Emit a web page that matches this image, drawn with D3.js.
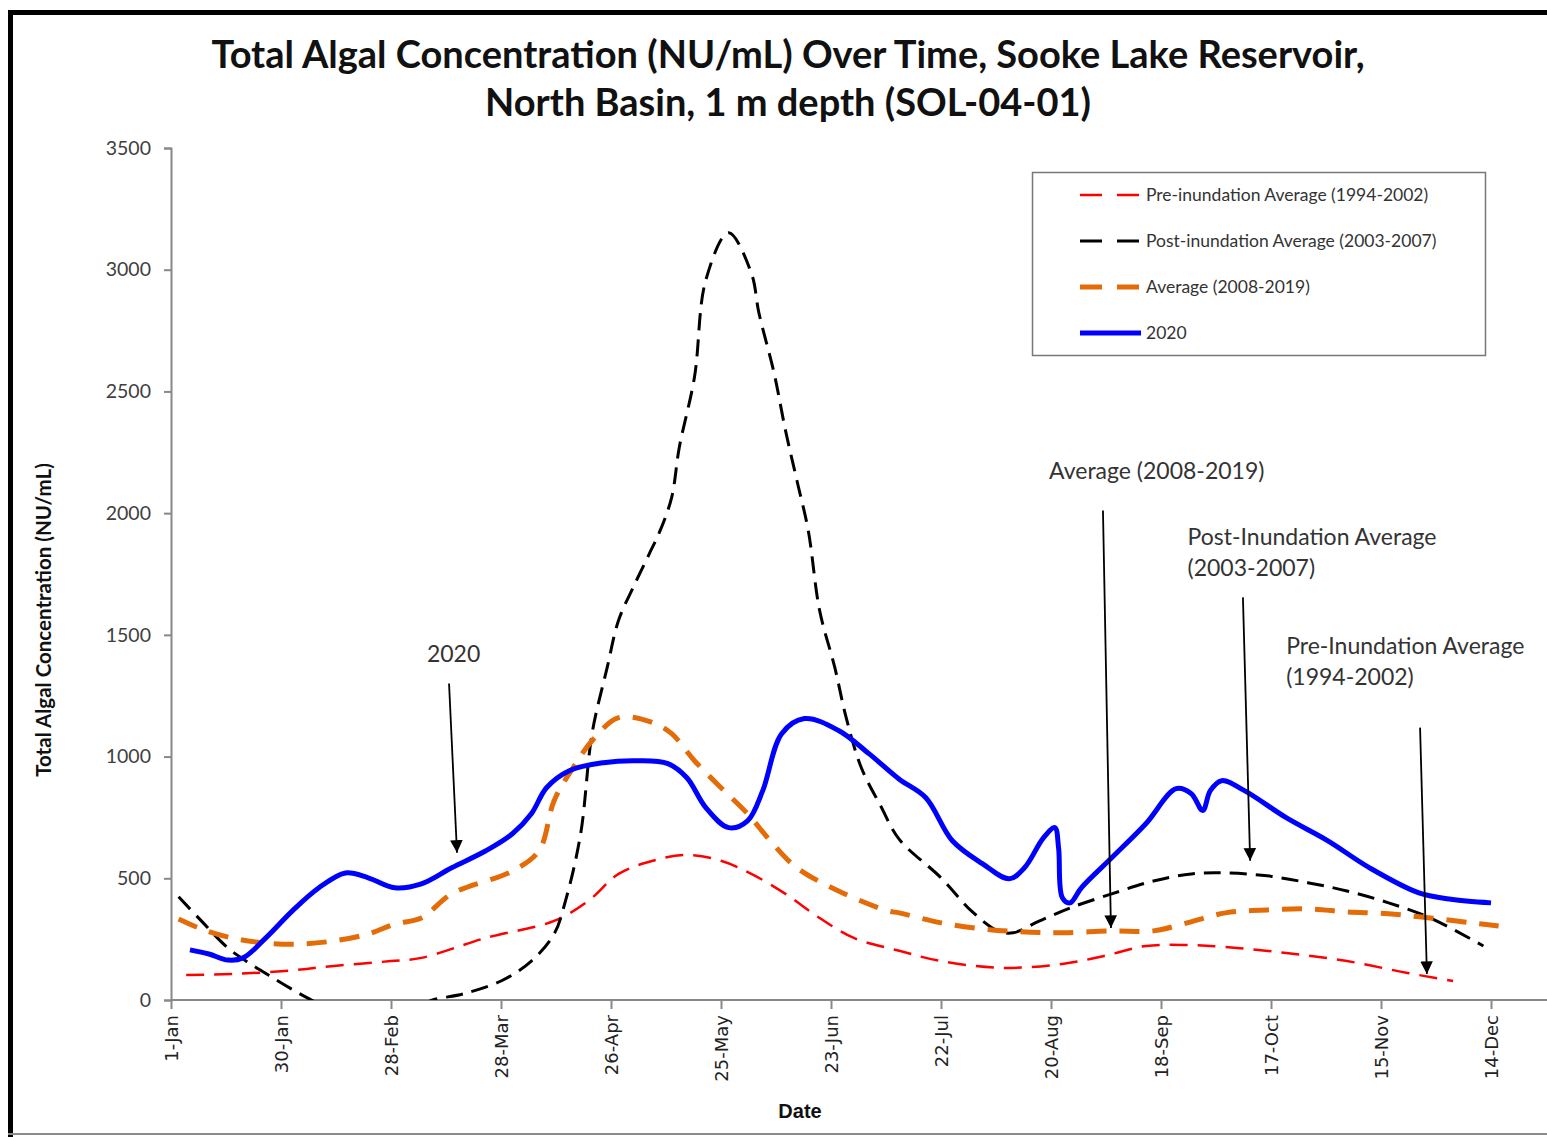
<!DOCTYPE html>
<html>
<head>
<meta charset="utf-8">
<script src="https://cdn.jsdelivr.net/npm/d3@7"></script>
<style>
  body { margin: 0; background: #fff; }
  svg { display: block; }
</style>
</head>
<body>
<svg id="chart" width="1547" height="1137"></svg>
<script>
// x is days since 1-Jan (2020), y is NU/mL
const tickDays = [0, 29, 58, 87, 116, 145, 174, 203, 232, 261, 290, 319, 348];
const tickLabels = ["1-Jan", "30-Jan", "28-Feb", "28-Mar", "26-Apr", "25-May", "23-Jun",
  "22-Jul", "20-Aug", "18-Sep", "17-Oct", "15-Nov", "14-Dec"];
const yTicks = [0, 500, 1000, 1500, 2000, 2500, 3000, 3500];

const preDays = [4, 16, 30, 43, 58, 66, 83, 101, 110, 118, 127, 136, 145, 153, 162, 171, 180,
  192, 203, 219, 235, 246, 257, 267, 278, 294, 310, 326, 338];
const preValues = [103, 107, 119, 140, 160, 173, 255, 325, 407, 518, 572, 596, 572, 518, 436, 337, 255,
  202, 160, 132, 148, 181, 222, 226, 218, 193, 160, 111, 78];

const postDays = [2, 8, 15, 21, 27, 34, 37, 42, 55, 65, 69, 77, 87, 95, 101, 104, 108, 111, 115, 118,
  122, 126, 129, 132, 134, 138, 141, 147, 153, 155, 159, 162, 165, 168, 171, 175, 178, 182, 187, 192,
  203, 211, 218, 222, 229, 237, 248, 259, 269, 278, 289, 300, 310, 321, 332, 346];
const postValues = [424, 325, 214, 148, 90, 25, 0, -40, -80, -30, 0, 25, 78, 160, 271, 407, 683, 1094, 1366, 1560,
  1700, 1830, 1930, 2065, 2270, 2558, 2958, 3152, 2986, 2822, 2575, 2340, 2135, 1929, 1600, 1366, 1160, 954, 800, 660,
  502, 366, 284, 276, 325, 378, 436, 489, 518, 522, 510, 481, 448, 399, 337, 222];

const avgDays = [2, 8, 16, 25, 34, 43, 52, 59, 66, 74, 90, 97, 101, 106, 111, 118, 127, 132, 138, 145,
  152, 158, 165, 176, 189, 192, 203, 214, 224, 235, 248, 259, 267, 278, 289, 300, 310, 321, 332, 343, 350];
const avgValues = [333, 292, 255, 234, 230, 243, 271, 312, 337, 436, 530, 613, 819, 954, 1065, 1160, 1140, 1094, 983, 872,
  765, 654, 543, 448, 366, 358, 317, 292, 280, 276, 284, 284, 313, 358, 370, 374, 362, 354, 337, 317, 304];

const y2020Days = [5, 10, 15, 19, 25, 32, 39, 46, 52, 59, 66, 74, 83, 90, 95, 99, 105, 114, 123, 131,
  136, 141, 147, 152, 156, 161, 167, 176, 184, 192, 199, 206, 214, 221, 225, 230, 233, 234, 235, 237,
  240, 248, 257, 265, 269, 272, 274, 277, 283, 294, 305, 316, 329, 337, 348];
const y2020Values = [206, 189, 164, 173, 255, 366, 461, 522, 502, 461, 477, 543, 613, 683, 765, 872, 942, 975, 983, 971,
  913, 790, 708, 736, 860, 1094, 1156, 1107, 1012, 907, 831, 654, 559, 498, 543, 666, 708, 625, 420, 399,
  461, 584, 724, 868, 847, 778, 860, 901, 860, 749, 654, 543, 440, 415, 399];

const seriesNames = ["Pre-inundation Average (1994-2002)", "Post-inundation Average (2003-2007)",
  "Average (2008-2019)", "2020"];

const series = [
  { name: seriesNames[0], days: preDays, values: preValues, color: "#ff0000", width: 2.5, dash: "18,10" },
  { name: seriesNames[1], days: postDays, values: postValues, color: "#000000", width: 3, dash: "17,9" },
  { name: seriesNames[2], days: avgDays, values: avgValues, color: "#e36c09", width: 5, dash: "20,13" },
  { name: seriesNames[3], days: y2020Days, values: y2020Values, color: "#0000ff", width: 5, dash: null }
];

// callouts: text anchor and arrow from/to, in data units
const callouts = [
  { lines: ["2020"], tx: 74.5, ty: 1390, anchor: "middle", from: [73.3, 1300], to: [75.4, 605] },
  { lines: ["Average (2008-2019)"], tx: 231.5, ty: 2140, anchor: "start", from: [245.7, 2011], to: [247.8, 296] },
  { lines: ["Post-Inundation Average", "(2003-2007)"], tx: 268, ty: 1870, anchor: "start", from: [282.6, 1654], to: [284.5, 572] },
  { lines: ["Pre-Inundation Average", "(1994-2002)"], tx: 294, ty: 1420, anchor: "start", from: [329.3, 1119], to: [331.1, 107] }
];

const calibri = "Lato, 'Open Sans', sans-serif";

function drawChart() {
  const svg = d3.select("#chart");
  svg.selectAll("*").remove();

  const x = d3.scaleLinear().domain([0, 348]).range([171, 1491]);
  const y = d3.scaleLinear().domain([0, 3500]).range([1000, 148]);

  // outer frame like the pasted screenshot
  svg.append("line").attr("x1", 10.5).attr("x2", 10.5).attr("y1", 10).attr("y2", 1137)
    .attr("stroke", "#000").attr("stroke-width", 5);
  svg.append("line").attr("x1", 8).attr("x2", 1547).attr("y1", 12.5).attr("y2", 12.5)
    .attr("stroke", "#000").attr("stroke-width", 5);
  svg.append("line").attr("x1", 8).attr("x2", 1547).attr("y1", 1134).attr("y2", 1134)
    .attr("stroke", "#8a8a8a").attr("stroke-width", 2);

  // title
  const title = svg.append("text")
    .attr("text-anchor", "middle")
    .style("font-family", calibri)
    .style("font-weight", "bold")
    .style("font-size", "38px")
    .attr("fill", "#111");
  title.append("tspan").attr("x", 788).attr("y", 68)
    .text("Total Algal Concentration (NU/mL) Over Time, Sooke Lake Reservoir,");
  title.append("tspan").attr("x", 788).attr("y", 116)
    .text("North Basin, 1 m depth (SOL-04-01)");

  // y axis
  const yAxis = svg.append("g")
    .attr("transform", `translate(${x(0)},0)`)
    .call(d3.axisLeft(y).tickValues(yTicks).tickSize(7).tickPadding(13).tickFormat(d3.format("d")));
  yAxis.select(".domain").attr("stroke", "#888").attr("stroke-width", 2);
  yAxis.selectAll(".tick line").attr("stroke", "#888").attr("stroke-width", 2);
  yAxis.selectAll(".tick text")
    .style("font-family", calibri)
    .style("font-size", "19.5px")
    .attr("fill", "#404040");

  // x axis, runs off the right side of the picture
  const xAxis = svg.append("g").attr("transform", `translate(0,${y(0)})`);
  xAxis.append("line").attr("x1", x(0)).attr("x2", 1547)
    .attr("stroke", "#888").attr("stroke-width", 2);
  xAxis.call(d3.axisBottom(x).tickValues(tickDays).tickSize(9).tickFormat((d, i) => tickLabels[i]));
  xAxis.select(".domain").remove();
  xAxis.selectAll(".tick line").attr("stroke", "#888").attr("stroke-width", 2);
  xAxis.selectAll(".tick text")
    .attr("transform", "rotate(-90)")
    .attr("text-anchor", "end")
    .attr("x", -15)
    .attr("y", 0)
    .attr("dy", "0.35em")
    .style("font-family", "'DejaVu Sans', sans-serif")
    .style("font-size", "18px")
    .attr("fill", "#222");

  // axis titles
  svg.append("text")
    .attr("transform", `translate(51,620) rotate(-90)`)
    .attr("text-anchor", "middle")
    .style("font-family", calibri)
    .style("font-weight", "bold")
    .style("font-size", "20.5px")
    .attr("fill", "#111")
    .text("Total Algal Concentration (NU/mL)");
  svg.append("text")
    .attr("x", 800).attr("y", 1118)
    .attr("text-anchor", "middle")
    .style("font-family", "'Liberation Sans Narrow', 'Liberation Sans', sans-serif")
    .style("font-weight", "bold")
    .style("font-size", "20px")
    .attr("fill", "#111")
    .text("Date");

  // plot lines, clipped at the axes
  svg.append("clipPath").attr("id", "plotClip")
    .append("rect").attr("x", x(0)).attr("y", y(3500) - 10)
    .attr("width", 1547 - x(0)).attr("height", y(0) - y(3500) + 10);

  const line = d3.line()
    .x(d => x(d[0]))
    .y(d => y(d[1]))
    .curve(d3.curveCatmullRom.alpha(0.5));

  const plot = svg.append("g").attr("clip-path", "url(#plotClip)");
  series.forEach(s => {
    plot.append("path")
      .datum(s.days.map((d, i) => [d, s.values[i]]))
      .attr("d", line)
      .attr("fill", "none")
      .attr("stroke", s.color)
      .attr("stroke-width", s.width)
      .attr("stroke-dasharray", s.dash)
      .attr("stroke-linejoin", "round");
  });

  // legend
  const legend = svg.append("g");
  legend.append("rect")
    .attr("x", 1032.5).attr("y", 172.5).attr("width", 453).attr("height", 183)
    .attr("fill", "#fff").attr("stroke", "#777").attr("stroke-width", 1.5);
  series.forEach((s, i) => {
    const ly = 195 + i * 46;
    legend.append("line")
      .attr("x1", 1080).attr("x2", 1141).attr("y1", ly).attr("y2", ly)
      .attr("stroke", s.color)
      .attr("stroke-width", s.width)
      .attr("stroke-dasharray", s.dash ? "22,15" : null);
    legend.append("text")
      .attr("x", 1146).attr("y", ly).attr("dy", "0.35em")
      .style("font-family", calibri)
      .style("font-size", "17.5px")
      .attr("fill", "#333")
      .text(s.name);
  });

  // callout arrows
  svg.append("defs").append("marker")
    .attr("id", "arrowHead")
    .attr("viewBox", "0 0 10 10")
    .attr("refX", 10).attr("refY", 5)
    .attr("markerWidth", 7).attr("markerHeight", 7)
    .attr("markerUnits", "strokeWidth")
    .attr("orient", "auto")
    .append("path").attr("d", "M0,0 L10,5 L0,10 z").attr("fill", "#000");

  callouts.forEach(c => {
    const t = svg.append("text")
      .attr("text-anchor", c.anchor)
      .style("font-family", calibri)
      .style("font-size", "23px")
      .attr("fill", "#333");
    c.lines.forEach((ln, i) => {
      t.append("tspan").attr("x", x(c.tx)).attr("y", y(c.ty) + i * 31).text(ln);
    });
    svg.append("line")
      .attr("x1", x(c.from[0])).attr("y1", y(c.from[1]))
      .attr("x2", x(c.to[0])).attr("y2", y(c.to[1]))
      .attr("stroke", "#000").attr("stroke-width", 1.8)
      .attr("marker-end", "url(#arrowHead)");
  });
}

drawChart();
</script>
</body>
</html>
